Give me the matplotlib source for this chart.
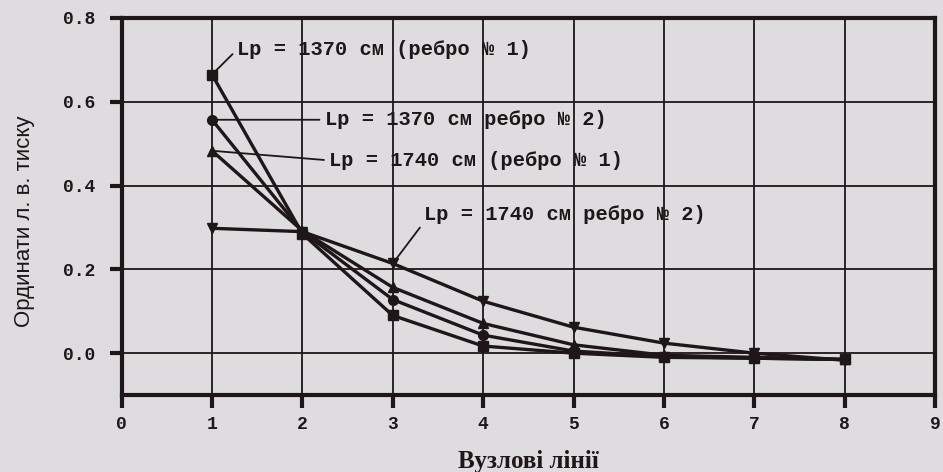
import matplotlib.pyplot as plt

# node lines and influence-line ordinates
x = [1, 2, 3, 4, 5, 6, 7, 8]
lp1370_r1 = [0.665, 0.285, 0.090, 0.017, 0.000, -0.010, -0.012, -0.015]
lp1370_r2 = [0.557, 0.290, 0.128, 0.043, 0.005, -0.008, -0.012, -0.015]
lp1740_r1 = [0.483, 0.292, 0.157, 0.071, 0.020, -0.005, -0.010, -0.015]
lp1740_r2 = [0.298, 0.290, 0.214, 0.124, 0.062, 0.024, 0.000, -0.017]

labels = ["Lр = 1370 см (ребро № 1)",
          "Lр = 1370 см ребро № 2)",
          "Lр = 1740 см (ребро № 1)",
          "Lр = 1740 см ребро № 2)"]

paper = '#dedcdf'
ink = '#1e1618'

fig = plt.figure(figsize=(9.43, 4.72), dpi=100, facecolor=paper)
ax = fig.add_axes([0.129, 0.163, 0.8625, 0.799])
ax.set_facecolor(paper)

series = [(lp1370_r1, 's'), (lp1370_r2, 'o'), (lp1740_r1, '^'), (lp1740_r2, 'v')]
for ys, m in series:
    ax.plot(x, ys, color=ink, lw=2.4, marker=m, ms=7, mfc=ink, mec=ink)

ax.set_xlim(0, 9)
ax.set_ylim(-0.1, 0.8)
ax.set_xticks(range(0, 10))
ax.set_yticks([0.0, 0.2, 0.4, 0.6, 0.8])
ax.set_yticklabels(['0.0', '0.2', '0.4', '0.6', '0.8'])
ax.grid(True, color=ink, lw=1.3)
for s in ax.spines.values():
    s.set_linewidth(3)
    s.set_color(ink)
ax.tick_params(direction='out', length=9, width=3, color=ink, labelcolor=ink)
ax.tick_params(axis='y', pad=10)
ax.tick_params(axis='x', pad=6)
for t in ax.get_xticklabels() + ax.get_yticklabels():
    t.set_fontfamily('Liberation Mono')
    t.set_fontweight('bold')
    t.set_fontsize(13)

ax.set_xlabel('Вузлові лінії', fontfamily='Liberation Serif', fontweight='bold',
              fontsize=18, color=ink, labelpad=12)
ax.set_ylabel('Ординати л. в. тиску', fontfamily='Liberation Sans', fontsize=16,
              color=ink)
ax.yaxis.set_label_coords(-0.106, 0.46)

# callout labels with leader lines
txt = dict(fontfamily='Liberation Mono', fontweight='bold', fontsize=14.7, color=ink,
           va='center', ha='left')
ax.annotate(labels[0], xy=(1, lp1370_r1[0]), xytext=(1.28, 0.725),
            arrowprops=dict(arrowstyle='-', color=ink, lw=1.3, relpos=(0, 0.5)), **txt)
ax.annotate(labels[1], xy=(1, lp1370_r2[0]), xytext=(2.25, 0.557),
            arrowprops=dict(arrowstyle='-', color=ink, lw=1.3, relpos=(0, 0.5)), **txt)
ax.annotate(labels[2], xy=(1, lp1740_r1[0]), xytext=(2.3, 0.46),
            arrowprops=dict(arrowstyle='-', color=ink, lw=1.3, relpos=(0, 0.5)), **txt)
ax.annotate(labels[3], xy=(3, lp1740_r2[2]), xytext=(3.35, 0.332),
            arrowprops=dict(arrowstyle='-', color=ink, lw=1.3, relpos=(0, 0.1)), **txt)

fig.savefig('out.png', dpi=100, facecolor=paper)
